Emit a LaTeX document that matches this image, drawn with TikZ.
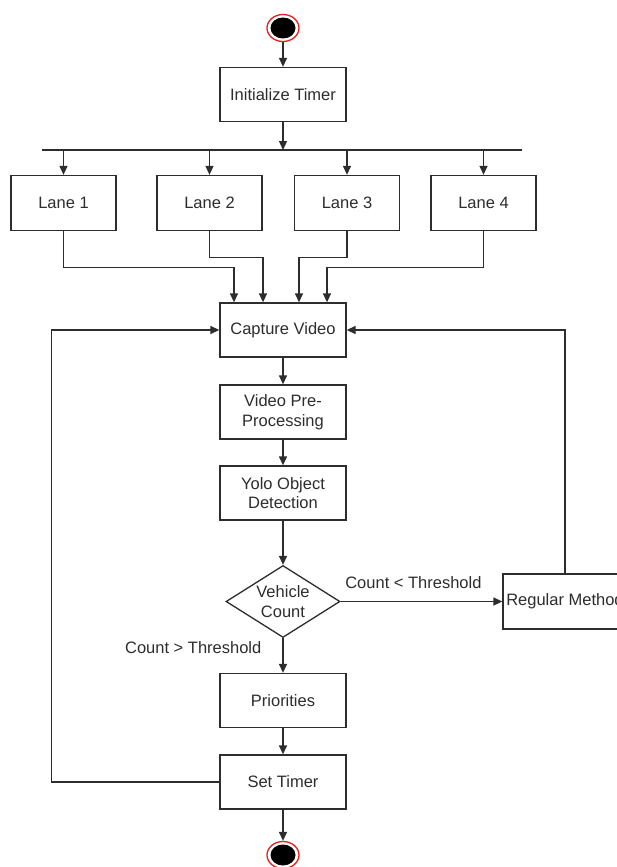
\documentclass[tikz,border=0pt]{standalone}
\usepackage{fontspec}
\setmainfont{Liberation Sans}
\usetikzlibrary{arrows.meta, shapes.geometric}
\definecolor{ink}{RGB}{45,45,45}
\definecolor{ringred}{RGB}{232,30,30}

\begin{document}
\begin{tikzpicture}[x=1pt, y=-1pt, line width=1.3pt, draw=ink, text=ink, >={Triangle[length=9pt, width=8pt]},
  every node/.style={font=\fontsize{16.5}{19.5}\selectfont},
  box/.style={draw=ink, fill=white, minimum width=126pt, minimum height=54pt, inner sep=0pt, align=center},
  lanebox/.style={box, minimum width=105pt, minimum height=55pt},
  choice/.style={diamond, draw=ink, fill=white, minimum width=114pt, minimum height=72pt, aspect=1.58, inner sep=0pt, align=center},
  blob/.style={ellipse, draw=ringred, line width=1.3pt, fill=white, minimum width=32pt, minimum height=27pt, inner sep=0pt,
    path picture={\fill[black] (path picture bounding box.center) ellipse (12.5pt and 10.5pt);}},
  lbl/.style={inner sep=1pt}]
\path[use as bounding box, clip] (0,0) rectangle (617,867);

\node[blob] (start) at (283,28) {};
\node[box] (init) at (283,94.5) {Initialize Timer};
\coordinate (barL) at (42,150);
\coordinate (barR) at (522,150);
\node[lanebox] (lane1) at (63.5,203) {Lane 1};
\node[lanebox] (lane2) at (209.5,203) {Lane 2};
\node[lanebox] (lane3) at (347,203) {Lane 3};
\node[lanebox] (lane4) at (483.5,203) {Lane 4};
\node[box] (capture) at (283,330) {Capture Video};
\node[box] (prep) at (283,412) {Video Pre-\\Processing};
\node[box] (yolo) at (283,493) {Yolo Object\\Detection};
\node[choice] (check) at (283,601.5) {Vehicle\\Count};
\node[box, minimum width=124pt, minimum height=55pt] (regular) at (565,601.5) {Regular Method};
\node[box] (prio) at (283,700.5) {Priorities};
\node[box] (settimer) at (283,782) {Set Timer};
\node[blob] (stop) at (283,855) {};

\draw[->] (start) -- (init);
\draw[->] (init) -- (init |- barL);
\draw (barL) -- (barR);
\draw[->] (lane1 |- barL) -- (lane1);
\draw[->] (lane2 |- barL) -- (lane2);
\draw[->] (lane3 |- barL) -- (lane3);
\draw[->] (lane4 |- barL) -- (lane4);
\draw[->] (lane1.south) -- ++(0,36.5) -| ([xshift=-49pt]capture.north);
\draw[->] (lane2.south) -- ++(0,26.5) -| ([xshift=-20pt]capture.north);
\draw[->] (lane3.south) -- ++(0,26.5) -| ([xshift=16pt]capture.north);
\draw[->] (lane4.south) -- ++(0,36.5) -| ([xshift=44pt]capture.north);
\draw[->] (capture) -- (prep);
\draw[->] (prep) -- (yolo);
\draw[->] (yolo) -- (check);
\draw[->] (check) -- node[lbl, above=11pt, pos=0.45] {Count < Threshold} (regular);
\draw[->] (check) -- node[lbl, left, pos=0.27, xshift=-20pt] {Count > Threshold} (prio);
\draw[->] (regular) |- (capture);
\draw[->] (prio) -- (settimer);
\draw[->] (settimer) -- (stop);
\draw[->] (settimer.west) -- ++(-168,0) |- (capture.west);
\end{tikzpicture}
\end{document}
